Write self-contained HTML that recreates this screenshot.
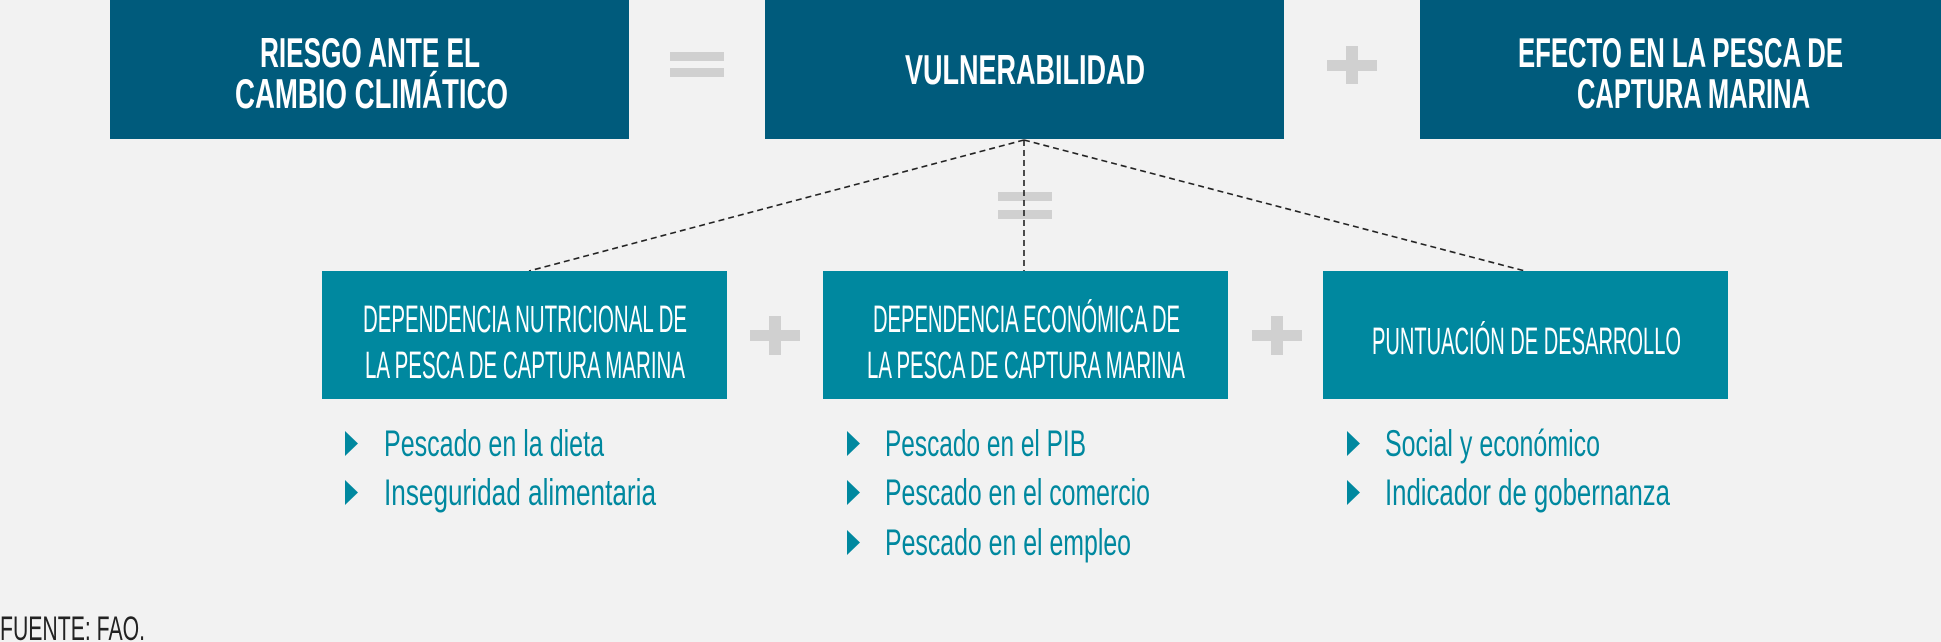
<!DOCTYPE html>
<html><head><meta charset="utf-8"><style>
html,body{margin:0;padding:0;background:#f2f2f2;}
svg{display:block;}
text{font-family:"Liberation Sans",sans-serif;}
</style></head><body>
<svg width="1941" height="642" viewBox="0 0 1941 642" xmlns="http://www.w3.org/2000/svg">
<rect width="1941" height="642" fill="#f2f2f2"/>
<rect x="110" y="0" width="519" height="139" fill="#005b7c"/>
<rect x="765" y="0" width="519" height="139" fill="#005b7c"/>
<rect x="1420" y="0" width="521" height="139" fill="#005b7c"/>
<g fill="#fff" font-weight="bold" font-size="42">
<text x="260" y="67" textLength="220" lengthAdjust="spacingAndGlyphs">RIESGO ANTE EL</text>
<text x="235" y="108" textLength="273" lengthAdjust="spacingAndGlyphs">CAMBIO CLIMÁTICO</text>
<text x="905" y="84" textLength="240" lengthAdjust="spacingAndGlyphs">VULNERABILIDAD</text>
<text x="1518" y="67" textLength="325" lengthAdjust="spacingAndGlyphs">EFECTO EN LA PESCA DE</text>
<text x="1577" y="108" textLength="233" lengthAdjust="spacingAndGlyphs">CAPTURA MARINA</text>
</g>
<g fill="#d0d0d0">
<rect x="670" y="52" width="54" height="9"/><rect x="670" y="68" width="54" height="9"/>
<rect x="998" y="192" width="54" height="9"/><rect x="998" y="210" width="54" height="9"/>
<rect x="1327" y="60" width="50" height="11"/><rect x="1346" y="46" width="12" height="38"/>
<rect x="750" y="330" width="50" height="11"/><rect x="769" y="316" width="12" height="39"/>
<rect x="1252" y="330" width="50" height="11"/><rect x="1271" y="316" width="12" height="39"/>
</g>
<g stroke="#222" stroke-width="1.6" stroke-dasharray="6,4" fill="none">
<line x1="1024" y1="140" x2="529" y2="271"/>
<line x1="1024" y1="140" x2="1024" y2="271"/>
<line x1="1024" y1="140" x2="1525" y2="271"/>
</g>
<rect x="322" y="271" width="405" height="128" fill="#00889f"/>
<rect x="823" y="271" width="405" height="128" fill="#00889f"/>
<rect x="1323" y="271" width="405" height="128" fill="#00889f"/>
<g fill="#fff" font-size="38">
<text x="363" y="332" textLength="324" lengthAdjust="spacingAndGlyphs">DEPENDENCIA NUTRICIONAL DE</text>
<text x="365" y="378" textLength="320" lengthAdjust="spacingAndGlyphs">LA PESCA DE CAPTURA MARINA</text>
<text x="873" y="332" textLength="307" lengthAdjust="spacingAndGlyphs">DEPENDENCIA ECONÓMICA DE</text>
<text x="867" y="378" textLength="318" lengthAdjust="spacingAndGlyphs">LA PESCA DE CAPTURA MARINA</text>
<text x="1372" y="354" textLength="309" lengthAdjust="spacingAndGlyphs">PUNTUACIÓN DE DESARROLLO</text>
</g>
<g fill="#00889f">
<polygon points="345,431 358,443.5 345,456"/>
<polygon points="345,480 358,492.5 345,505"/>
<polygon points="847,431 860,443.5 847,456"/>
<polygon points="847,480 860,492.5 847,505"/>
<polygon points="847,530 860,542.5 847,555"/>
<polygon points="1347,431 1360,443.5 1347,456"/>
<polygon points="1347,480 1360,492.5 1347,505"/>
</g>
<g fill="#00889f" font-size="37">
<text x="384" y="456" textLength="220" lengthAdjust="spacingAndGlyphs">Pescado en la dieta</text>
<text x="384" y="505" textLength="272" lengthAdjust="spacingAndGlyphs">Inseguridad alimentaria</text>
<text x="885" y="456" textLength="201" lengthAdjust="spacingAndGlyphs">Pescado en el PIB</text>
<text x="885" y="505" textLength="265" lengthAdjust="spacingAndGlyphs">Pescado en el comercio</text>
<text x="885" y="555" textLength="246" lengthAdjust="spacingAndGlyphs">Pescado en el empleo</text>
<text x="1385" y="456" textLength="215" lengthAdjust="spacingAndGlyphs">Social y económico</text>
<text x="1385" y="505" textLength="285" lengthAdjust="spacingAndGlyphs">Indicador de gobernanza</text>
</g>
<text x="0" y="640" fill="#222" font-size="34" textLength="145" lengthAdjust="spacingAndGlyphs">FUENTE: FAO.</text>
</svg>
</body></html>
